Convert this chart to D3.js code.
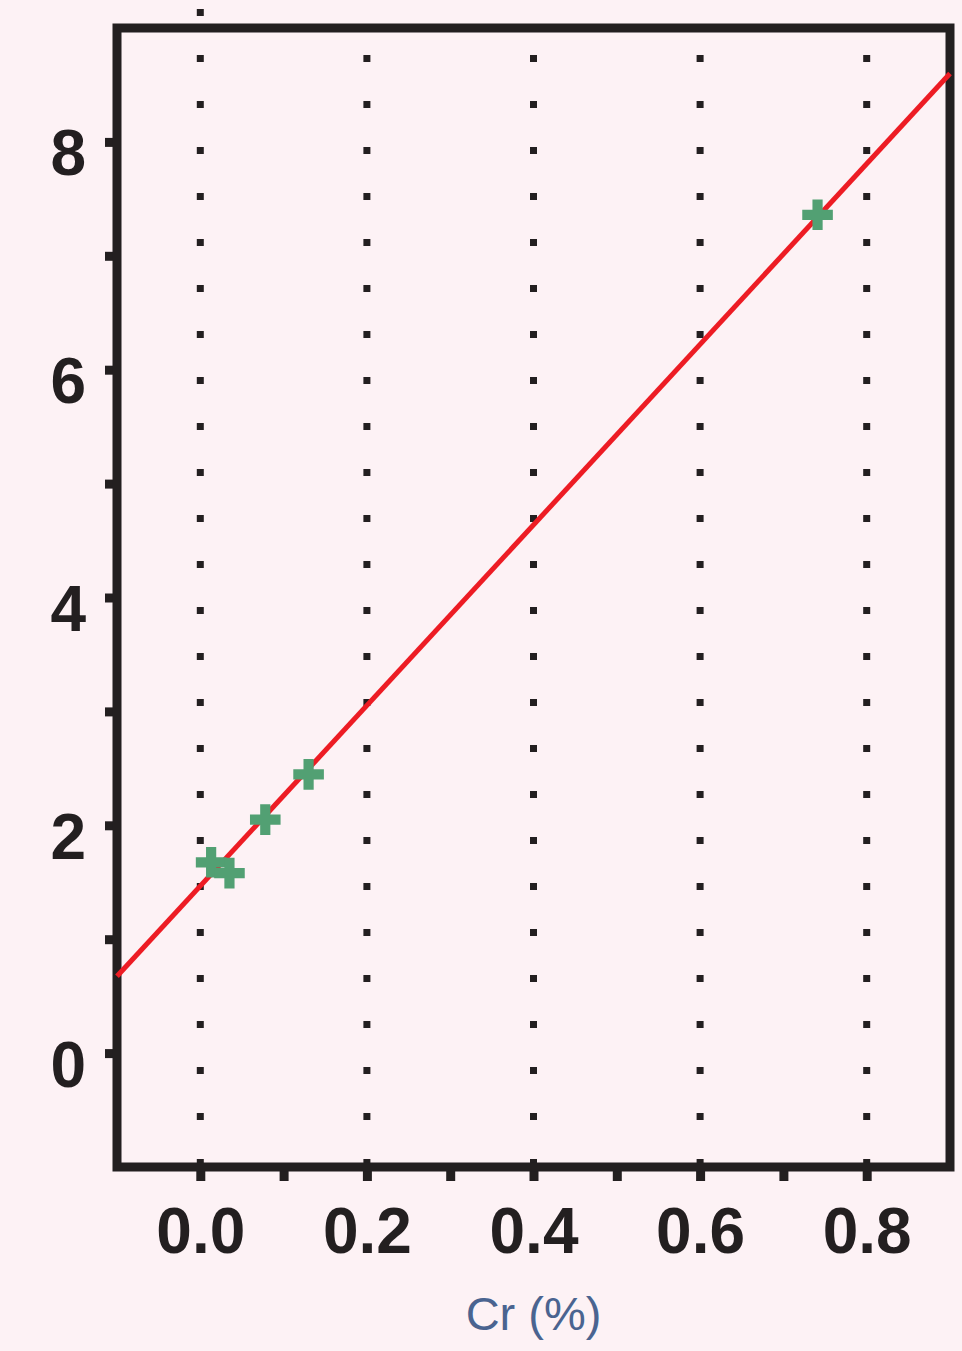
<!DOCTYPE html>
<html>
<head>
<meta charset="utf-8">
<script src="https://cdn.jsdelivr.net/npm/d3@7"></script>
<style>
  body { margin: 0; background: #fdf2f5; }
  svg { display: block; }
</style>
</head>
<body>
<div id="chart"></div>
<script>
// data
const crValues = [0.013, 0.035, 0.078, 0.130, 0.741]
const yValues = [1.675, 1.58, 2.05, 2.447, 7.36]
const fitLine = [[-0.1, 0.675], [0.9, 8.6]]
const xTicks = [0.0, 0.2, 0.4, 0.6, 0.8]
const xMinor = [0.1, 0.3, 0.5, 0.7]
const yTicks = [0, 2, 4, 6, 8]
const yMinor = [1, 3, 5, 7]
const xTitle = 'Cr (%)'

const width = 962
const height = 1351
const margin = {left: 117, right: 12, top: 28, bottom: 184}

const svg = d3.select('#chart')
  .append('svg')
  .attr('width', width)
  .attr('height', height)

svg.append('rect')
  .attr('width', width)
  .attr('height', height)
  .attr('fill', '#fdf2f5')

const xScale = d3.scaleLinear()
  .domain([-0.1, 0.9])
  .range([margin.left, width - margin.right])

const yScale = d3.scaleLinear()
  .domain([-1, 9])
  .range([height - margin.bottom, margin.top])

const ink = '#231f20'

// dotted grid lines (the 0.0 one pokes out above the frame)
svg.append('g')
  .selectAll('line')
  .data(xTicks)
  .enter()
  .append('line')
  .attr('x1', d => xScale(d))
  .attr('x2', d => xScale(d))
  .attr('y1', d => d === 0 ? 9 : 55)
  .attr('y2', yScale(-1))
  .attr('stroke', ink)
  .attr('stroke-width', 7)
  .attr('stroke-dasharray', '7,39')

// axes
const xAxis = d3.axisBottom(xScale)
  .tickValues(xTicks.concat(xMinor))
  .tickSize(14)
  .tickSizeOuter(0)
  .tickFormat(d => xTicks.includes(d) ? d3.format('.1f')(d) : '')

const yAxis = d3.axisLeft(yScale)
  .tickValues(yTicks.concat(yMinor))
  .tickSize(12)
  .tickSizeOuter(0)
  .tickFormat(d => yTicks.includes(d) ? d : '')

const gx = svg.append('g')
  .attr('transform', 'translate(0,' + yScale(-1) + ')')
  .call(xAxis)

const gy = svg.append('g')
  .attr('transform', 'translate(' + xScale(-0.1) + ',0)')
  .call(yAxis)

for (const g of [gx, gy]) {
  g.select('.domain').remove()
  g.selectAll('line')
    .attr('stroke', ink)
    .attr('stroke-width', 9)
  g.selectAll('text')
    .attr('fill', ink)
    .style('font-family', '"Liberation Sans", Arial, sans-serif')
    .style('font-weight', 'bold')
    .style('font-size', '64px')
}

gx.selectAll('text').attr('dy', null).attr('y', 86)
gy.selectAll('text').attr('dy', null).attr('y', 33).attr('x', -31)

// frame
svg.append('rect')
  .attr('x', xScale(-0.1))
  .attr('y', yScale(9))
  .attr('width', xScale(0.9) - xScale(-0.1))
  .attr('height', yScale(-1) - yScale(9))
  .attr('fill', 'none')
  .attr('stroke', ink)
  .attr('stroke-width', 9)

// fit line
const line = d3.line()
  .x(d => xScale(d[0]))
  .y(d => yScale(d[1]))

svg.append('path')
  .datum(fitLine)
  .attr('d', line)
  .attr('fill', 'none')
  .attr('stroke', '#ed1c24')
  .attr('stroke-width', 5)

// points
const plus = d3.symbol().type(d3.symbolCross).size(520)

svg.append('g')
  .selectAll('path')
  .data(crValues)
  .enter()
  .append('path')
  .attr('d', plus)
  .attr('transform', (d, i) => 'translate(' + xScale(d) + ',' + yScale(yValues[i]) + ')')
  .attr('fill', '#52a073')

// axis title
svg.append('text')
  .attr('x', xScale(0.4))
  .attr('y', 1330)
  .attr('text-anchor', 'middle')
  .attr('fill', '#4a6490')
  .style('font-family', '"Liberation Sans", Arial, sans-serif')
  .style('font-size', '47px')
  .text(xTitle)
</script>
</body>
</html>
